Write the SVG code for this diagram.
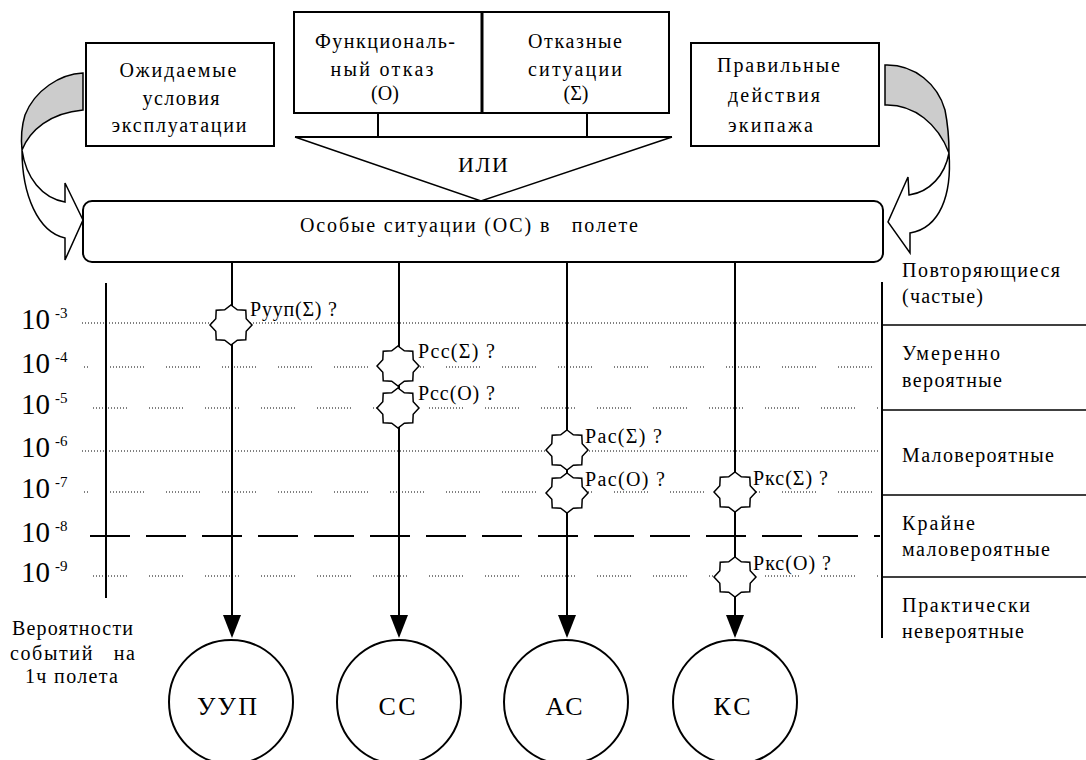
<svg xmlns="http://www.w3.org/2000/svg" xmlns:xlink="http://www.w3.org/1999/xlink" width="1086" height="760" viewBox="0 0 1086 760">
<defs>
<style>
.box{fill:#fff;stroke:#000;stroke-width:2}
.ln{fill:none;stroke:#000;stroke-width:2}
.thin{fill:none;stroke:#000;stroke-width:1.5}
.dot{fill:none;stroke:#000;stroke-width:1;stroke-dasharray:1 2}
.dd{fill:none;stroke:#000;stroke-width:1;stroke-dasharray:1 2 1 2 1 2 1 2 1 2 1 2 1 2 1 2 1 2 1 2 1 2 1 22}
.dash{fill:none;stroke:#000;stroke-width:2;stroke-dasharray:40 16}
.t{font-family:"Liberation Serif","Times New Roman",serif;font-size:20px;fill:#000}
.num{font-family:"Liberation Serif","Times New Roman",serif;font-size:29px;fill:#000}
.sup{font-family:"Liberation Serif","Times New Roman",serif;font-size:15px;fill:#000}
.big{font-family:"Liberation Serif","Times New Roman",serif;font-size:26px;fill:#000}
.gray{fill:#cccccc;stroke:#000;stroke-width:1.5}
.wa{fill:#fff;stroke:#000;stroke-width:1.5}
.starf{fill:#fff;stroke:none}
.stars{fill:none;stroke:#000;stroke-width:1.5}
.head{fill:#000;stroke:none}
</style>
<polygon id="star" points="0,-20 6.3,-15.2 14.8,-14.8 15.2,-6.3 21,0 15.2,6.3 14.8,14.8 6.3,15.2 0,20 -6.3,15.2 -14.8,14.8 -15.2,6.3 -21,0 -15.2,-6.3 -14.8,-14.8 -6.3,-15.2"/>
</defs>
<rect width="1086" height="760" fill="#fff"/>

<g id="grid">
<line class="dot" x1="82" y1="323" x2="880" y2="323"/>
<line class="dd" x1="82" y1="367" x2="880" y2="367" stroke-dashoffset="28"/>
<line class="dd" x1="93" y1="408" x2="880" y2="408"/>
<line class="dot" x1="82" y1="451" x2="880" y2="451"/>
<line class="dd" x1="82" y1="492" x2="880" y2="492" stroke-dashoffset="28"/>
<line class="dash" x1="90" y1="536" x2="880" y2="536"/>
<line class="dd" x1="93" y1="576" x2="880" y2="576"/>
<line class="ln" x1="106" y1="283" x2="106" y2="598"/>
<line class="ln" x1="882" y1="282" x2="882" y2="638"/>
<line class="thin" x1="882" y1="325" x2="1086" y2="325"/>
<line class="thin" x1="882" y1="410" x2="1086" y2="410"/>
<line class="thin" x1="882" y1="495" x2="1086" y2="495"/>
<line class="thin" x1="882" y1="577" x2="1086" y2="577"/>
</g>

<g id="scale-labels">
<text class="num" x="21" y="329">10</text><text class="sup" x="55" y="318">-3</text>
<text class="num" x="21" y="373">10</text><text class="sup" x="55" y="362">-4</text>
<text class="num" x="21" y="414">10</text><text class="sup" x="55" y="403">-5</text>
<text class="num" x="21" y="457">10</text><text class="sup" x="55" y="446">-6</text>
<text class="num" x="21" y="498">10</text><text class="sup" x="55" y="487">-7</text>
<text class="num" x="21" y="542">10</text><text class="sup" x="55" y="531">-8</text>
<text class="num" x="21" y="582">10</text><text class="sup" x="55" y="571">-9</text>
<text class="t" x="12" y="635" textLength="121">Вероятности</text>
<text class="t" x="10" y="660" textLength="125" xml:space="preserve">событий   на</text>
<text class="t" x="25" y="683" textLength="93">1ч полета</text>
</g>

<g id="category-labels">
<text class="t" x="902" y="277" textLength="158">Повторяющиеся</text>
<text class="t" x="902" y="303" textLength="81">(частые)</text>
<text class="t" x="902" y="360" textLength="98">Умеренно</text>
<text class="t" x="902" y="387" textLength="100">вероятные</text>
<text class="t" x="902" y="462" textLength="152">Маловероятные</text>
<text class="t" x="902" y="530" textLength="73">Крайне</text>
<text class="t" x="902" y="556" textLength="148">маловероятные</text>
<text class="t" x="902" y="612" textLength="128">Практически</text>
<text class="t" x="902" y="638" textLength="122">невероятные</text>
</g>

<g id="connectors">
<line class="ln" x1="378" y1="113" x2="378" y2="137"/>
<line class="ln" x1="587" y1="113" x2="587" y2="137"/>
<line class="ln" x1="295" y1="137" x2="672" y2="137"/>
<polyline class="thin" points="295,137 481,201 672,137"/>
<line class="ln" x1="232" y1="262" x2="232" y2="617"/>
<line class="ln" x1="399" y1="262" x2="399" y2="617"/>
<line class="ln" x1="567" y1="262" x2="567" y2="617"/>
<line class="ln" x1="735" y1="262" x2="735" y2="617"/>
<polygon class="head" points="223,615 241,615 232,638"/>
<polygon class="head" points="390,615 408,615 399,638"/>
<polygon class="head" points="558,615 576,615 567,638"/>
<polygon class="head" points="726,615 744,615 735,638"/>
<path class="gray" d="M83,73 C60,74 35,90 25,115 C21,128 21,140 22,150 C30,130 50,113 83,110 Z"/>
<path class="wa" d="M22,150 C22,195 38,232 65,238 L65,260 L83,220 L65,183 L65,202 C42,198 26,178 22,150 Z"/>
<path class="gray" d="M885,65 C915,64 938,85 945,110 C948,125 949,140 949,153 C938,124 914,104 885,105 Z"/>
<path class="wa" d="M949,153 C952,195 940,228 910,233 L910,253 L888,222 L908,177 L909,195 C930,192 945,175 949,153 Z"/>
</g>

<g id="n-expected">
<rect class="box" x="86" y="43" width="188" height="103"/>
<text class="t" x="178" y="77" text-anchor="middle" textLength="117">Ожидаемые</text>
<text class="t" x="181" y="105" text-anchor="middle" textLength="77">условия</text>
<text class="t" x="179" y="132" text-anchor="middle" textLength="135">эксплуатации</text>
</g>

<g id="n-functional">
<rect class="box" x="294" y="12" width="188" height="101"/>
<text class="t" x="385" y="48" text-anchor="middle" textLength="140">Функциональ-</text>
<text class="t" x="382" y="76" text-anchor="middle" textLength="103">ный отказ</text>
<text class="t" x="385" y="100" text-anchor="middle">(О)</text>
</g>

<g id="n-failure">
<rect class="box" x="482" y="12" width="187" height="101"/>
<line x1="482" y1="12" x2="482" y2="113" stroke="#000" stroke-width="3"/>
<text class="t" x="575" y="48" text-anchor="middle" textLength="94">Отказные</text>
<text class="t" x="575" y="76" text-anchor="middle" textLength="94">ситуации</text>
<text class="t" x="576" y="100" text-anchor="middle">(Σ)</text>
</g>

<g id="n-crew">
<rect class="box" x="691" y="43" width="188" height="103"/>
<text class="t" x="717" y="72" textLength="123">Правильные</text>
<text class="t" x="728" y="102" textLength="92">действия</text>
<text class="t" x="728" y="132" textLength="85">экипажа</text>
</g>

<g id="n-or">
<text class="t" x="483" y="172" text-anchor="middle" style="font-size:22px" textLength="50">ИЛИ</text>
</g>

<g id="n-special">
<rect class="box" x="83" y="201" width="800" height="61" rx="9" ry="9"/>
<text class="t" x="300" y="232" textLength="338" xml:space="preserve">Особые ситуации (ОС) в   полете</text>
</g>

<g id="events">
<use href="#star" x="231" y="325" class="starf"/>
<use href="#star" x="398" y="366" class="starf"/>
<use href="#star" x="398" y="408" class="starf"/>
<use href="#star" x="567" y="450" class="starf"/>
<use href="#star" x="567" y="493" class="starf"/>
<use href="#star" x="735" y="492" class="starf"/>
<use href="#star" x="735" y="577" class="starf"/>
<use href="#star" x="231" y="325" class="stars"/>
<use href="#star" x="398" y="366" class="stars"/>
<use href="#star" x="398" y="408" class="stars"/>
<use href="#star" x="567" y="450" class="stars"/>
<use href="#star" x="567" y="493" class="stars"/>
<use href="#star" x="735" y="492" class="stars"/>
<use href="#star" x="735" y="577" class="stars"/>
<text class="t" x="250" y="316" textLength="87">Pууп(Σ) ?</text>
<text class="t" x="418" y="358" textLength="77">Pсс(Σ) ?</text>
<text class="t" x="418" y="400" textLength="77">Pсс(O) ?</text>
<text class="t" x="585" y="443" textLength="77">Pас(Σ) ?</text>
<text class="t" x="585" y="486" textLength="80">Pас(O) ?</text>
<text class="t" x="753" y="485" textLength="75">Pкс(Σ) ?</text>
<text class="t" x="753" y="570" textLength="78">Pкс(O) ?</text>
</g>

<g id="n-uup">
<circle class="box" cx="231" cy="702" r="62"/>
<text class="big" x="227" y="715" text-anchor="middle" textLength="60">УУП</text>
</g>
<g id="n-ss">
<circle class="box" cx="399" cy="702" r="62"/>
<text class="big" x="397" y="715" text-anchor="middle" textLength="37">СС</text>
</g>
<g id="n-as">
<circle class="box" cx="566" cy="702" r="62"/>
<text class="big" x="564" y="715" text-anchor="middle" textLength="37">АС</text>
</g>
<g id="n-ks">
<circle class="box" cx="735" cy="702" r="62"/>
<text class="big" x="732" y="715" text-anchor="middle" textLength="37">КС</text>
</g>
</svg>
